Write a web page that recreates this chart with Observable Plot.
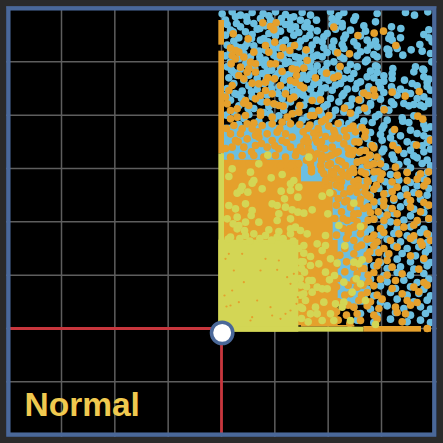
<!DOCTYPE html>
<html><head><meta charset="utf-8">
<script src="https://cdn.jsdelivr.net/npm/d3@7"></script>
<script src="https://cdn.jsdelivr.net/npm/@observablehq/plot@0.6"></script>
<style>html,body{margin:0;padding:0;background:#2a2a2a;overflow:hidden}svg{display:block}</style>
</head><body><div id="c"></div><script>
// 160 units = one grid cell (one standard deviation); the origin is the red crosshair.
const title = "Normal";
const gridX = [-480,-320,-160,0,160,320,480];
const gridY = [-160,0,160,320,480,640,800];
const blue = [
[2,944],[32,950],[57,940],[92,948],[142,938],[162,950],[192,942],[217,935],[242,948],[267,940],[327,950],[352,938],[367,948],[402,935],[467,945],[552,948],[579,940],[619,950],
[12,925],[42,935],[77,922],[117,930],[147,925],[177,920],[207,932],[237,925],[257,918],[332,930],[347,922],[362,915],[397,925],[462,920],
[17,912],[57,905],[97,915],[132,908],[162,903],[192,912],[222,905],[267,900],[332,912],[362,905],[387,895],[427,908],[510,905],[538,900],
[27,895],[72,890],[107,898],[142,885],[177,892],[207,898],[232,888],[287,893],[317,885],[342,898],[372,880],[432,892],[507,880],[537,872],[622,896],
[12,880],[52,872],[92,882],[127,870],[162,878],[192,865],[217,880],[252,870],[307,875],[337,862],[367,870],[417,878],[437,865],[502,870],[607,882],
[37,862],[77,855],[117,865],[152,852],[182,858],[207,848],[237,862],[272,850],[302,860],[332,845],[362,852],[397,860],[447,850],[462,862],[512,865],[622,872],
[17,850],[57,842],[97,848],[132,835],[172,842],[202,830],[232,845],[267,835],[307,842],[342,830],[367,840],[407,848],[437,835],[467,845],[497,838],[595,852],[632,860],
[27,832],[67,825],[112,832],[157,820],[192,828],[222,815],[252,830],[287,820],[317,828],[357,815],[417,830],[457,822],[502,835],[527,840],[569,836],[602,832],
[12,818],[52,810],[87,815],[132,805],[167,812],[202,800],[232,812],[267,802],[302,815],[337,800],[367,810],[407,818],[437,805],[467,815],[502,822],[544,820],[627,825],
[27,800],[72,792],[112,798],[152,790],[192,795],[227,785],[257,798],[287,788],[317,795],[352,782],[387,792],[432,800],[462,788],[631,800],
[17,785],[57,778],[97,782],[137,772],[177,780],[212,768],[247,782],[277,772],[312,778],[352,765],[377,775],[407,785],[447,772],[467,785],[514,780],[582,785],[604,778],
[37,768],[82,760],[122,765],[162,755],[202,762],[237,750],[267,762],[307,752],[332,762],[367,750],[397,765],[437,755],[467,768],[487,758],[512,765],[577,770],[607,775],
[22,752],[67,745],[107,750],[147,738],[187,745],[217,735],[257,748],[292,738],[322,745],[357,735],[387,750],[417,740],[457,752],[487,742],[512,750],[549,745],[607,755],[622,748],
[37,735],[82,728],[127,735],[172,725],[207,730],[247,720],[277,732],[312,722],[342,730],[377,718],[407,735],[442,725],[472,738],[510,725],[572,735],[587,728],[617,738],
[17,720],[62,712],[107,718],[152,708],[192,715],[232,705],[267,718],[297,708],[332,715],[367,705],[402,720],[437,710],[477,722],[515,712],[537,718],[552,708],[617,726],[627,715],
[47,702],[92,695],[137,700],[182,690],[222,698],[257,688],[292,700],[327,690],[362,698],[392,688],[422,705],[457,695],[487,708],[527,700],[567,705],[607,695],
[27,685],[72,678],[117,682],[162,672],[207,680],[247,670],[287,682],[317,672],[352,680],[387,670],[417,685],[447,675],[477,688],[510,680],[587,690],[622,682],
[52,668],[97,660],[142,665],[187,655],[232,662],[272,652],[307,665],[342,655],[377,668],[412,655],[447,670],[487,660],[517,672],[547,675],[562,668],[577,672],[597,670],[607,665],[622,675],
[37,650],[82,642],[127,648],[172,638],[217,645],[257,635],[297,648],[332,638],[367,650],[402,640],[437,652],[472,642],[502,655],
[67,630],[112,622],[157,628],[202,618],[242,625],[287,615],[322,628],[357,618],[392,632],[427,622],[462,635],[497,625],[542,632],[577,638],
[52,612],[97,605],[142,610],[187,600],[232,608],[272,598],[312,610],[347,600],[382,615],[417,605],[452,618],[487,608],[544,622],[562,618],[607,612],[627,605],
[87,595],[132,588],[177,592],[222,582],[267,590],[302,580],[337,592],[372,582],[407,598],[447,588],[482,600],[512,590],[567,595],[612,600],
[72,578],[117,570],[167,575],[212,565],[252,572],[297,562],[332,575],[367,565],[402,580],[437,570],[477,582],[507,572],[537,578],[587,585],[607,578],[622,570],
[262,558],[307,550],[342,560],[377,548],[412,562],[447,552],[482,565],[517,555],[557,560],[577,552],[617,558],
[237,540],[277,532],[317,542],[352,530],[387,545],[422,535],[457,548],[487,538],[527,542],[567,535],[602,548],[627,538],
[267,522],[307,515],[342,525],[377,512],[412,528],[447,518],[482,530],[512,520],[547,525],[577,518],[607,530],
[297,505],[332,498],[367,510],[407,500],[442,512],[477,502],[517,508],[557,500],[587,512],[617,505],
[387,490],[422,482],[457,495],[492,485],[532,492],[567,482],[602,495],[627,488],
[267,464],[297,470],[437,468],[467,458],[507,462],[557,470],[592,460],[617,468],
[287,445],[327,440],[377,448],[417,438],[457,450],[492,440],[532,445],[567,438],[607,448],
[337,425],[387,418],[437,428],[472,420],[507,425],[552,418],[587,428],[622,420],
[317,405],[367,398],[412,408],[447,400],[497,405],[537,398],[577,408],[617,400],
[347,385],[397,378],[437,388],[477,380],[517,385],[557,378],[597,388],
[367,365],[417,358],[457,368],[497,360],[537,365],[577,358],[617,368],
[337,345],[387,338],[437,348],[477,340],[517,345],[567,338],[607,348],
[367,325],[417,318],[457,328],[507,320],[547,325],[587,318],[622,328],
[397,305],[447,298],[487,308],[527,300],[567,305],[607,298],
[337,285],[387,278],[432,288],[477,280],[517,285],[557,278],[597,288],[622,280],
[407,265],[447,258],[497,268],[537,260],[577,265],[617,258],
[427,245],[467,238],[517,248],[557,240],[592,245],[622,238],
[357,225],[417,218],[457,228],[497,220],[542,225],[582,218],[612,228],
[437,205],[477,198],[527,208],[567,200],[607,205],[627,198],
[357,185],[407,178],[457,188],[497,180],[537,185],[577,178],[617,188],
[427,165],[487,158],[527,168],[567,160],[607,165],
[357,145],[397,138],[447,148],[497,140],[547,145],[587,138],[622,148],
[387,125],[437,118],[477,128],[522,120],[567,125],[607,118],
[407,105],[457,98],[507,108],[557,100],[592,105],[627,98],
[427,85],[477,78],[527,88],[577,80],[617,85],
[397,65],[447,58],[497,68],[547,60],[597,65],[627,58],
[417,45],[467,38],[522,48],[567,40],[612,45],
[407,25],[457,18],[507,28],[557,20],[597,25],[627,18],
[45,915],[115,900],[180,930],[250,905],[90,870],[140,860],[225,850],[285,865],[45,845],[115,815],[185,810],[250,815],[150,775],[235,795],[100,780],[45,760],[135,750],[190,760],[280,745],[245,760],[90,710],[170,705],[245,700],[40,705],[120,680],[190,670],[300,720],[300,640],[230,720],[60,690],
[75,935],[125,945],[205,915],[285,925],[35,890],[160,890],[265,880],[70,845],[155,835],[205,825],[275,815],[30,775],[75,800],[130,790],[170,765],[220,790],[265,785],[300,770],[110,735],[150,720],[215,710],[275,700],[80,660],[145,645],[15,700],[15,640]
];
const orange = [
[124,917],[164,917],[147,906],[157,896],[35,884],[80,869],[160,859],[132,849],[219,849],[337,904],[409,879],[458,886],[486,892],[523,849],
[185,842],[205,834],[254,836],[27,841],[42,834],[97,829],[142,829],[348,827],[384,824],[52,829],[67,814],[32,819],[42,809],[177,819],[257,804],
[87,799],[102,794],[147,794],[162,794],[29,794],[57,784],[82,779],[212,779],[225,776],[247,781],[182,771],[315,766],[356,786],[77,769],[102,769],
[52,759],[67,749],[139,752],[159,749],[225,759],[282,752],[337,752],[350,757],[207,744],[92,736],[112,734],[132,739],[177,729],[222,739],[237,729],[247,722],
[32,729],[22,714],[12,694],[132,714],[152,704],[192,704],[207,689],[217,694],[427,706],[457,716],[440,699],[460,699],[512,709],[551,697],[593,711],
[117,699],[102,689],[72,684],[67,676],[272,684],[297,686],[412,686],[47,659],[82,669],[137,679],[157,674],[172,669],[185,667],[235,669],[369,661],[429,661],[488,656],
[17,674],[27,654],[117,649],[387,646],[117,639],[212,644],[232,649],[292,654],[267,639],[277,639],[322,639],[312,627],[589,637],[604,628],
[27,629],[47,634],[72,639],[152,634],[197,634],[37,609],[77,614],[97,616],[122,609],[152,614],[182,619],[207,614],[235,612],[322,607],[395,607],[422,602],[519,597],
[62,599],[92,599],[260,601],[337,594],[369,594],[402,590],[432,590],[57,584],[27,584],[102,579],[137,584],[167,589],[192,584],[277,586],[292,586],[312,576],
[42,564],[77,569],[112,574],[152,564],[182,564],[212,574],[247,561],[282,569],[332,569],[352,571],[412,559],[452,549],[457,542],[514,549],[530,536],[585,550],[627,565],
[32,544],[67,544],[102,549],[137,544],[172,539],[207,544],[237,544],[287,559],[297,544],[332,544],[367,554],[397,534],[392,522],[432,534],
[27,514],[62,519],[97,519],[127,514],[162,519],[192,514],[222,519],[267,529],[287,524],[317,514],[342,526],[382,524],[432,506],[467,514],[457,494],[437,489],[477,494],[522,484],
[47,494],[82,494],[112,489],[147,494],[177,489],[207,489],[232,494],[267,494],[297,489],[327,494],[352,504],[372,489],[407,499],[422,504],
[255,505],[275,510],[300,505],[245,530],[260,545],[300,475],[320,452],[345,430],[310,430],[335,405],[350,390],[345,370],[360,350],[340,330],[365,300],[345,280],[375,270],[335,250],[370,240],[355,220],[375,200],[345,190],[370,170],[350,150],[380,130],[345,125],[370,100],[350,80],[380,70],[345,50],[375,40],[350,25],[385,15],
[12,540],[50,560],[90,530],[120,555],[160,548],[195,558],[225,530],[255,572],[15,600],[110,590],[175,600],[245,590],[300,560],[330,520],[360,500],[385,470],[270,470],[330,470],[360,440],[385,410],[370,380],[395,330],[385,300],[380,285],[365,330],
[265,610],[300,620],[350,615],[385,600],[340,585],[290,600],[375,575],[400,560],[430,575],[260,560],[310,540],[350,530],[380,540],[415,530],[445,520],[300,520],[270,480],[320,490],[345,480],[395,480],[420,470],[380,455],[410,445],[360,470],[335,450],[445,490],[470,470],[440,440],[400,420],[430,410],[465,430],[445,395],[415,375],[440,365],[470,350],[410,345],[440,325],[420,300],[450,270],[420,250],[445,230],[420,180],[440,160],[425,130],[420,100],
[307,464],[337,464],[367,460],[397,468],[432,464],[457,470],[482,464],[527,460],[557,468],[597,464],[622,470],
[312,444],[352,448],[397,440],[437,444],[477,448],[512,440],[557,444],[587,448],[617,442],
[357,424],[387,420],[412,428],[432,424],[457,418],[527,424],[607,428],
[367,404],[407,408],[437,400],[487,404],[512,410],[557,400],[592,404],
[377,384],[417,388],[457,380],[487,384],[517,390],[567,384],[607,378],
[387,364],[427,360],[487,368],[512,360],[567,364],[622,370],
[397,344],[447,348],[497,340],[527,344],[597,350],
[377,324],[407,320],[457,328],[487,324],[527,318],[587,324],[622,330],
[397,304],[427,308],[477,300],[547,304],[577,310],
[417,284],[457,280],[487,288],[532,284],[577,278],[617,284],
[397,264],[437,268],[467,260],[507,264],[567,270],[597,260],[627,264],
[407,244],[457,248],[487,240],[527,244],[602,250],
[397,224],[437,220],[472,228],[502,224],[567,218],
[407,204],[442,208],[472,200],[497,204],[607,210],
[397,184],[427,180],[467,188],[512,184],[592,178],
[407,164],[457,168],[497,160],[542,164],
[397,144],[442,140],[477,148],[522,144],[607,138],
[407,124],[457,128],[512,120],[577,124],[617,130],
[387,104],[437,108],[467,100],[542,104],[592,110],
[412,84],[447,80],[482,88],[557,84],[587,78],
[397,64],[437,68],[472,60],[522,64],[567,70],
[407,44],[457,40],[527,48],[552,44],
[417,24],[467,28],[542,20],[617,0]
];
const yellow = [
[139,520],[262,514],[112,494],[32,479],
[22,456],[87,469],[97,444],[92,436],[62,426],[57,414],[47,406],[79,409],[122,419],[149,452],[182,462],[207,434],[217,444],[232,424],[207,414],[179,412],[229,394],[189,389],[152,374],[167,369],[72,374],[42,359],[22,369],[92,354],[89,339],[172,344],[192,364],[212,356],[229,349],[247,346],[272,356],[302,397],[325,407],[207,329],[167,324],[112,319],[72,319],[47,334],[17,329],[35,314],[52,309],[47,299],[69,294],[72,279],[142,296],[172,291],[207,299],[222,304],[237,294],[257,284],[207,284],[352,309],[397,376],[417,306],[312,279],[319,344],[27,274],[97,284],[132,279],[167,274],
[247,249],[267,216],[247,226],[287,254],[312,249],[302,234],[370,248],[327,209],[347,196],[422,206],[397,199],[412,194],[267,189],[292,194],[312,169],[339,159],[324,146],[249,169],[262,144],[272,144],[287,124],[272,109],[302,119],[317,119],[367,139],[392,109],[404,149],[417,134],[432,84],[367,79],[362,64],[342,74],[307,79],[252,84],[237,64],[282,64],[267,44],[287,44],[337,24],[302,24],[462,12],[247,104],[327,44],[387,24],[240,180],[238,130],[240,30],[243,60],[260,20],[255,125],[245,200],
[20,268],[55,270],[85,262],[115,270],[150,265],[185,270],[215,262],[232,240],[238,200],[236,150],[237,100]
];
const flecks = [
[9,99],[15,66],[27,69],[87,24],[177,29],[132,209],[167,176],[197,154],[207,134],[107,84],[52,79],[37,174],[22,224],[62,224],[117,174],[92,34],[152,39],[192,44],[207,54],[225,74],[229,94],[67,139],[12,209],[217,164],[32,114],[147,64],[172,204]
];
// Regions so crowded that single points merge into a solid patch.
const denseBlue = [
  {x1:0,x2:400,y1:430,y2:610},{x1:320,x2:440,y1:70,y2:450}
];
const denseOrange = [
  {x1:0,x2:240,y1:240,y2:505},{x1:200,x2:350,y1:8,y2:264},{x1:230,x2:335,y1:264,y2:440}
];
const clampedOrange = [
  {x1:-8,x2:9,y1:524,y2:832},{x1:-8,x2:9,y1:850,y2:924},{x1:240,x2:400,y1:4,y2:9},{x1:427,x2:600,y1:-11,y2:6},{x1:610,x2:630,y1:-11,y2:6}
];
const denseYellow = [{x1:-8,x2:232,y1:-11,y2:265}];
const clampedYellow = [{x1:-8,x2:9,y1:-11,y2:524},{x1:-8,x2:427,y1:-11,y2:4}];
const frame = {x1:-638,x2:640,y1:-320,y2:959};
const origin = {x:2,y:-13};
const BLUE="#6cbfe0",ORANGE="#e5a02c",YELLOW="#d3d655",R=3.8;
const pt=(a,fill,r=R)=>Plot.dot(a,{x:d=>d[0],y:d=>d[1],r,fill,stroke:"none"});
const block=(a,fill)=>Plot.rect(a,{x1:"x1",x2:"x2",y1:"y1",y2:"y2",fill,inset:0});
const plot = Plot.plot({
  width:443,height:443,margin:0,
  x:{domain:[-663,666],range:[0,443],axis:null},
  y:{domain:[-345,984],range:[443,0],axis:null},
  style:{background:"#000",overflow:"hidden"},
  marks:[
    Plot.ruleX(gridX,{stroke:"#5e5e5e",strokeWidth:1.5}),
    Plot.ruleY(gridY,{stroke:"#5e5e5e",strokeWidth:1.5}),
    block(denseBlue,BLUE),
    pt(blue,BLUE),
    block(denseOrange,ORANGE),
    block(clampedOrange,ORANGE),
    pt(orange,ORANGE),
    block(denseYellow,YELLOW),
    block(clampedYellow,YELLOW),
    pt(yellow,YELLOW),
    pt(flecks,ORANGE,1.1),
    Plot.ruleY([0],{x1:frame.x1,x2:origin.x,stroke:"#c8363d",strokeWidth:2.8}),
    Plot.ruleX([0],{y1:frame.y1,y2:origin.y,stroke:"#c8363d",strokeWidth:2.8}),
    Plot.dot([origin],{x:"x",y:"y",r:10.7,fill:"#fff",stroke:"#4a6899",strokeWidth:3.5}),
    Plot.text([title],{x:-591,y:-261,text:d=>d,textAnchor:"start",lineAnchor:"bottom",fontFamily:"Liberation Sans",fontWeight:700,fontSize:33.5,fill:"#f0c94f"}),
    Plot.rect([{x1:-670,x2:670,y1:959,y2:990},{x1:-670,x2:670,y1:-350,y2:-327},{x1:-670,x2:-645,y1:-350,y2:990},{x1:647,x2:670,y1:-350,y2:990}],{x1:"x1",x2:"x2",y1:"y1",y2:"y2",fill:"#2a2a2a"}),
    Plot.rect([frame],{x1:"x1",x2:"x2",y1:"y1",y2:"y2",fill:"none",stroke:"#4a6899",strokeWidth:4.4})
  ]
});
document.getElementById("c").append(plot);
</script></body></html>
